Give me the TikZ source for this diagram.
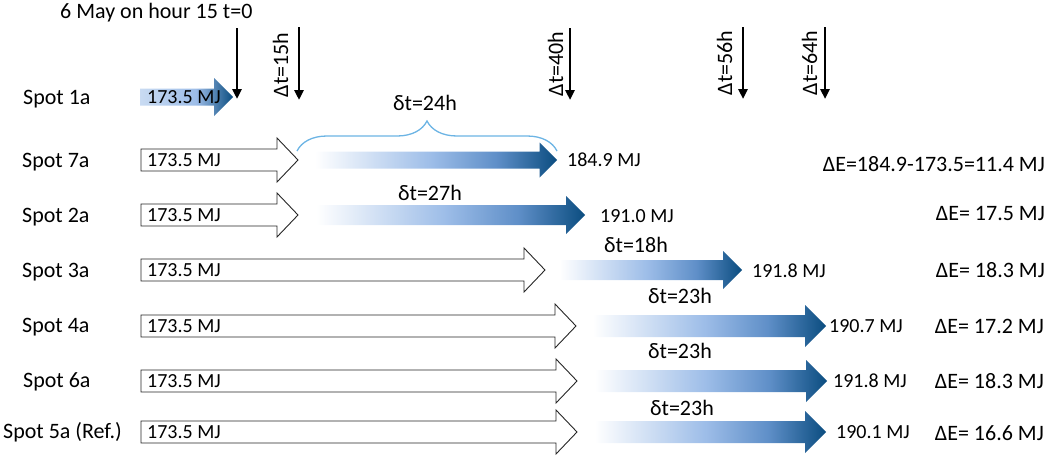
\documentclass[tikz,border=0pt]{standalone}
\usepackage{fontspec}
\setmainfont{Carlito}
\usetikzlibrary{arrows.meta,decorations.pathreplacing}

\definecolor{fadeend}{HTML}{0B4D80}
\definecolor{fademid}{HTML}{9DBDE8}
\definecolor{fadedeep}{HTML}{5F8FC8}
\definecolor{spotstart}{HTML}{C9DBF2}
\definecolor{bracecol}{HTML}{6CB4E4}

% path box is mapped onto 25bp..75bp of the shading
\pgfdeclarehorizontalshading{energyfade}{100bp}{color(0bp)=(white); color(27bp)=(white);
  color(50bp)=(fademid); color(63bp)=(fadedeep); color(75bp)=(fadeend); color(100bp)=(fadeend)}
\pgfdeclarehorizontalshading{spotfade}{100bp}{color(0bp)=(spotstart); color(25bp)=(spotstart);
  color(55bp)=(fademid); color(75bp)=(fadeend); color(100bp)=(fadeend)}

% white block arrow: start x, tip x, centre y
\newcommand{\emptyarrow}[3]{%
  \draw[emptyblock] (#1,#3+11) -- (#2-21,#3+11) -- (#2-21,#3+22) -- (#2,#3)
    -- (#2-21,#3-22) -- (#2-21,#3-11) -- (#1,#3-11) -- cycle;}
% shaded block arrow: start x, tip x, centre y, half shaft, half head
\newcommand{\fadearrow}[6][energyfade]{%
  \shade[shading=#1] (#2,#4+#5) -- (#3-#6,#4+#5) -- (#3-#6,#4+#6) -- (#3,#4)
    -- (#3-#6,#4-#6) -- (#3-#6,#4-#5) -- (#2,#4-#5) -- cycle;}

\begin{document}
\begin{tikzpicture}[x=1pt,y=1pt,
    spottext/.style={font=\fontsize{22}{26}\selectfont, inner sep=0pt},
    valtext/.style={font=\fontsize{20}{23}\selectfont, inner sep=0pt},
    emptyblock/.style={draw=black!85, fill=white, line width=0.9pt},
    timearrow/.style={line width=2.6pt, -{Triangle[length=10pt,width=9pt]}},
    bracket/.style={draw=bracecol, line width=1.3pt, decorate,
      decoration={brace, amplitude=30pt}}]
   \useasboundingbox (0,0) rectangle (1052,-458);

   % time marks
   \node[spottext, anchor=base west] (start) at (60,-18) {6 May on hour 15 t=0};
   \coordinate (t0top) at (237,-28);  \coordinate (t0tip) at (237,-99);
   \coordinate (t15top) at (299,-27); \coordinate (t15tip) at (299,-100);
   \coordinate (t40top) at (570,-28); \coordinate (t40tip) at (570,-100);
   \coordinate (t56top) at (743,-27); \coordinate (t56tip) at (743,-99);
   \coordinate (t64top) at (825,-27); \coordinate (t64tip) at (825,-99);
   \draw[timearrow] (t0top) -- (t0tip);
   \draw[timearrow] (t15top) -- (t15tip);
   \draw[timearrow] (t40top) -- (t40tip);
   \draw[timearrow] (t56top) -- (t56tip);
   \draw[timearrow] (t64top) -- (t64tip);
   \node[spottext, rotate=90, anchor=base] (dt15) at (288,-65) {Δt=15h};
   \node[spottext, rotate=90, anchor=base] (dt40) at (563,-64) {Δt=40h};
   \node[spottext, rotate=90, anchor=base] (dt56) at (732,-63) {Δt=56h};
   \node[spottext, rotate=90, anchor=base] (dt64) at (817,-63) {Δt=64h};

   % Spot 1a
   \node[spottext, anchor=base west] (spot1a) at (23,-104) {Spot 1a};
   \fadearrow[spotfade]{140}{233}{-97}{8.5}{19}
   \node[valtext, anchor=base west] (in1a) at (147,-103) {173.5 MJ};

   % Spot 7a
   \node[spottext, anchor=base west] (spot7a) at (22,-167) {Spot 7a};
   \emptyarrow{141}{298}{-160}
   \node[valtext, anchor=base west] (in7a) at (147,-166) {173.5 MJ};
   \fadearrow{305}{557}{-160}{8.5}{17.5}
   \node[valtext, anchor=base west] (out7a) at (567,-166) {184.9 MJ};
   \coordinate (brace7l) at (297,-151); \coordinate (brace7r) at (557,-151);
   \draw[bracket] (brace7l) -- (brace7r);
   \node[spottext, anchor=base] (dt7a) at (425,-110) {δt=24h};
   \node[spottext, anchor=base east] (de7a) at (1045,-171) {ΔE=184.9-173.5=11.4 MJ};

   % Spot 2a
   \node[spottext, anchor=base west] (spot2a) at (22,-222) {Spot 2a};
   \emptyarrow{141}{298}{-215}
   \node[valtext, anchor=base west] (in2a) at (147,-221) {173.5 MJ};
   \fadearrow{305}{585}{-215}{10}{19}
   \node[valtext, anchor=base west] (out2a) at (600,-222) {191.0 MJ};
   \node[spottext, anchor=base] (dt2a) at (430,-200) {δt=27h};
   \node[spottext, anchor=base east] (de2a) at (1045,-220) {ΔE= 17.5 MJ};

   % Spot 3a
   \node[spottext, anchor=base west] (spot3a) at (22,-277) {Spot 3a};
   \emptyarrow{141}{545}{-270}
   \node[valtext, anchor=base west] (in3a) at (147,-276) {173.5 MJ};
   \fadearrow{552}{742}{-270}{10}{19}
   \node[valtext, anchor=base west] (out3a) at (752,-277) {191.8 MJ};
   \node[spottext, anchor=base] (dt3a) at (636,-252) {δt=18h};
   \node[spottext, anchor=base east] (de3a) at (1045,-277) {ΔE= 18.3 MJ};

   % Spot 4a
   \node[spottext, anchor=base west] (spot4a) at (22,-332) {Spot 4a};
   \emptyarrow{141}{576}{-326}
   \node[valtext, anchor=base west] (in4a) at (147,-332) {173.5 MJ};
   \fadearrow{583}{826}{-326}{11}{21}
   \node[valtext, anchor=base west] (out4a) at (829,-332) {190.7 MJ};
   \node[spottext, anchor=base] (dt4a) at (680,-303) {δt=23h};
   \node[spottext, anchor=base east] (de4a) at (1044,-333) {ΔE= 17.2 MJ};

   % Spot 6a
   \node[spottext, anchor=base west] (spot6a) at (23,-387) {Spot 6a};
   \emptyarrow{141}{577}{-381}
   \node[valtext, anchor=base west] (in6a) at (147,-387) {173.5 MJ};
   \fadearrow{585}{827}{-381}{11}{21}
   \node[valtext, anchor=base west] (out6a) at (833,-387) {191.8 MJ};
   \node[spottext, anchor=base] (dt6a) at (680,-358) {δt=23h};
   \node[spottext, anchor=base east] (de6a) at (1044,-388) {ΔE= 18.3 MJ};

   % Spot 5a (reference)
   \node[spottext, anchor=base west] (spot5a) at (3,-438) {Spot 5a (Ref.)};
   \emptyarrow{141}{577}{-432}
   \node[valtext, anchor=base west] (in5a) at (147,-438) {173.5 MJ};
   \fadearrow{585}{826}{-432}{11}{21}
   \node[valtext, anchor=base west] (out5a) at (836,-438) {190.1 MJ};
   \node[spottext, anchor=base] (dt5a) at (682,-415) {δt=23h};
   \node[spottext, anchor=base east] (de5a) at (1044,-440) {ΔE= 16.6 MJ};
\end{tikzpicture}
\end{document}
